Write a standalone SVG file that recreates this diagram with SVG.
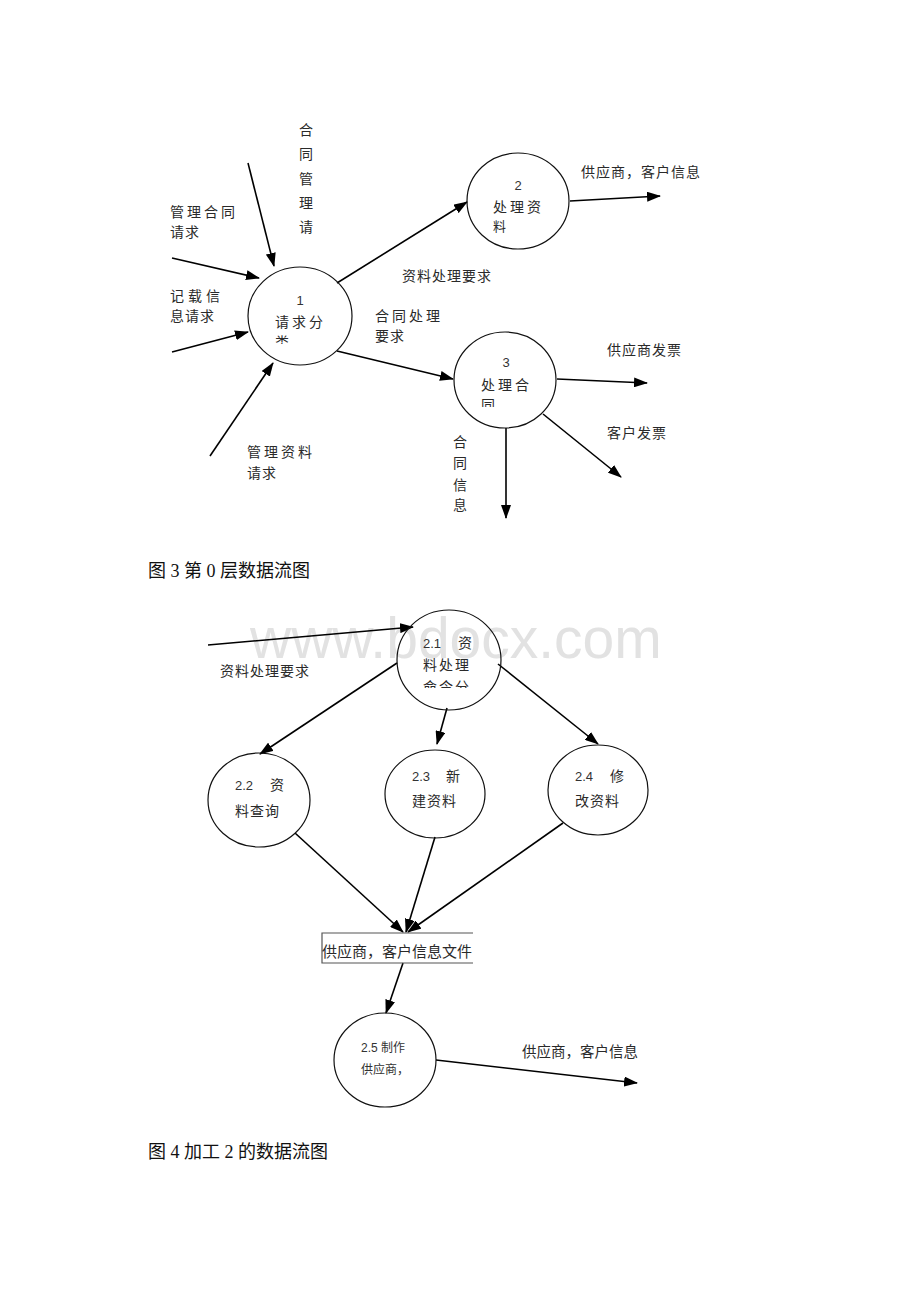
<svg xmlns="http://www.w3.org/2000/svg" width="920" height="1302" viewBox="0 0 920 1302">
<style>
.bg{fill:#ffffff}
.n{fill:none;stroke:#111;stroke-width:1.2}
.e{stroke:#000;stroke-width:1.6;fill:none;marker-end:url(#ah)}
.t{font-family:"Liberation Sans","Noto Sans CJK SC",sans-serif;font-size:14px;fill:#2a2a2a}
.s{letter-spacing:3px}
.s1{letter-spacing:1px}
.d{font-family:"Liberation Sans","Noto Sans CJK SC",sans-serif;font-size:13px;fill:#333}
.cap{font-family:"Liberation Serif","Noto Sans CJK SC",serif;font-size:18px;fill:#111}
.wm{font-family:"Liberation Sans",Arial,sans-serif;font-size:57px;fill:#e2e2e2}
</style>
<defs>
<marker id="ah" markerUnits="userSpaceOnUse" markerWidth="14" markerHeight="10" refX="13" refY="5" orient="auto">
<path d="M0,0 L14,5 L0,10 Z" fill="#000"/>
</marker>
<clipPath id="c1"><rect x="260" y="270" width="90" height="74"/></clipPath>
<clipPath id="c3"><rect x="460" y="335" width="95" height="72"/></clipPath>
<clipPath id="c21"><rect x="400" y="612" width="100" height="76"/></clipPath>
<clipPath id="cr"><rect x="321" y="930" width="151" height="36"/></clipPath>
</defs>
<rect class="bg" x="0" y="0" width="920" height="1302"/>
<text class="wm" x="250" y="658">www.bdocx.com</text>

<g id="connectors">
<line class="e" x1="248" y1="163" x2="274" y2="266"/>
<line class="e" x1="172" y1="258" x2="259" y2="278"/>
<line class="e" x1="172" y1="352" x2="248" y2="332"/>
<line class="e" x1="210" y1="456" x2="273" y2="363"/>
<line class="e" x1="337" y1="283" x2="467" y2="202"/>
<line class="e" x1="337" y1="351" x2="453" y2="379"/>
<line class="e" x1="570" y1="201" x2="660" y2="196"/>
<line class="e" x1="557" y1="379" x2="647" y2="383"/>
<line class="e" x1="543" y1="414" x2="621" y2="477"/>
<line class="e" x1="506" y1="428" x2="506" y2="518"/>

<line class="e" x1="208" y1="645" x2="413" y2="627"/>
<line class="e" x1="397" y1="663" x2="260" y2="754"/>
<line class="e" x1="447" y1="708" x2="437" y2="744"/>
<line class="e" x1="498" y1="664" x2="598" y2="744"/>
<line class="e" x1="295" y1="833" x2="403" y2="932"/>
<line class="e" x1="435" y1="837" x2="406" y2="932"/>
<line class="e" x1="563" y1="823" x2="408" y2="932"/>
<line class="e" x1="403" y1="963" x2="386" y2="1013"/>
<line class="e" x1="436" y1="1060" x2="637" y2="1083"/>
</g>

<g id="node1">
<ellipse class="n" cx="300" cy="316" rx="52" ry="49"/>
<text class="d" x="300" y="305" text-anchor="middle">1</text>
<text class="t s" x="275" y="327">请求分</text>
<text class="t" x="275" y="347" clip-path="url(#c1)">类</text>
</g>
<g id="node2">
<ellipse class="n" cx="518" cy="201" rx="51" ry="48"/>
<text class="d" x="518" y="190" text-anchor="middle">2</text>
<text class="t s" x="493" y="212">处理资</text>
<text class="t" x="493" y="231" style="font-size:13px">料</text>
</g>
<g id="node3">
<ellipse class="n" cx="505" cy="380" rx="51" ry="48"/>
<text class="d" x="506" y="367" text-anchor="middle">3</text>
<text class="t s" x="481" y="390">处理合</text>
<text class="t" x="481" y="410" clip-path="url(#c3)">同</text>
</g>

<g id="labels-top">
<text class="t"><tspan x="299" y="135">合</tspan><tspan x="299" y="159">同</tspan><tspan x="299" y="184">管</tspan><tspan x="299" y="208">理</tspan><tspan x="299" y="232">请</tspan></text>
<text class="t s" x="170" y="217">管理合同</text>
<text class="t s1" x="170" y="237">请求</text>
<text class="t" x="170" y="301" style="letter-spacing:4px">记载信</text>
<text class="t s1" x="170" y="321">息请求</text>
<text class="t s1" x="402" y="281">资料处理要求</text>
<text class="t s" x="375" y="321">合同处理</text>
<text class="t s1" x="375" y="341">要求</text>
<text class="t s1" x="581" y="177">供应商，客户信息</text>
<text class="t s1" x="607" y="355">供应商发票</text>
<text class="t s1" x="607" y="438">客户发票</text>
<text class="t"><tspan x="453" y="447">合</tspan><tspan x="453" y="468">同</tspan><tspan x="453" y="490">信</tspan><tspan x="453" y="510">息</tspan></text>
<text class="t s" x="247" y="457">管理资料</text>
<text class="t s1" x="247" y="478">请求</text>
</g>
<text class="cap" x="148" y="577">图 3 第 0 层数据流图</text>

<g id="node2-1">
<ellipse class="n" cx="449" cy="660" rx="52" ry="50"/>
<text class="d" x="423" y="648">2.1</text>
<text class="t" x="458" y="648">资</text>
<text class="t" x="423" y="670" style="letter-spacing:2px">料处理</text>
<text class="t" x="423" y="692" style="letter-spacing:2px" clip-path="url(#c21)">命令分</text>
</g>
<g id="node2-2">
<ellipse class="n" cx="259" cy="800" rx="51" ry="47"/>
<text class="d" x="235" y="790">2.2</text>
<text class="t" x="270" y="790">资</text>
<text class="t s1" x="235" y="816">料查询</text>
</g>
<g id="node2-3">
<ellipse class="n" cx="435" cy="794" rx="50" ry="44"/>
<text class="d" x="412" y="781">2.3</text>
<text class="t" x="446" y="781">新</text>
<text class="t s1" x="412" y="806">建资料</text>
</g>
<g id="node2-4">
<ellipse class="n" cx="598" cy="790" rx="50" ry="45"/>
<text class="d" x="575" y="781">2.4</text>
<text class="t" x="610" y="781">修</text>
<text class="t s1" x="575" y="806">改资料</text>
</g>
<g id="store">
<path d="M473,933 H322 V963 H473" fill="none" stroke="#555" stroke-width="1.2"/>
<text class="t" x="322" y="957" style="font-size:15px" clip-path="url(#cr)">供应商，客户信息文件</text>
</g>
<g id="node2-5">
<ellipse class="n" cx="385" cy="1060" rx="51" ry="47"/>
<text class="d" x="361" y="1052" style="font-size:12px">2.5 制作</text>
<text class="d" x="361" y="1074" style="font-size:12px">供应商，</text>
</g>
<g id="labels-bottom">
<text class="t s1" x="220" y="676">资料处理要求</text>
<text class="t" x="522" y="1057" style="font-size:14.5px">供应商，客户信息</text>
</g>
<text class="cap" x="148" y="1158">图 4 加工 2 的数据流图</text>
</svg>
